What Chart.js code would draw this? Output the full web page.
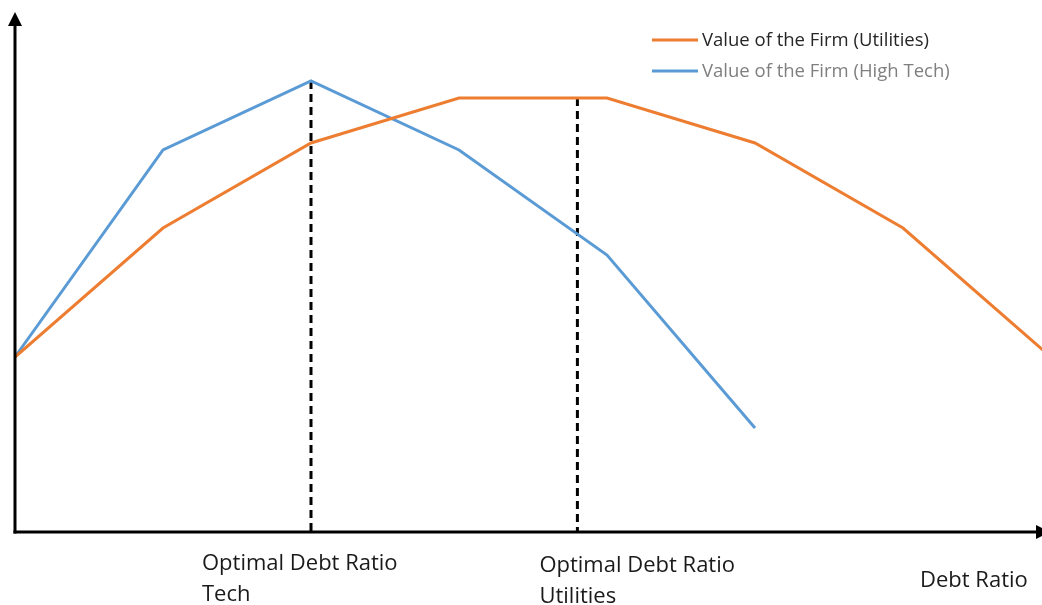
<!DOCTYPE html>
<html>
<head>
<meta charset="utf-8">
<script src="https://cdn.jsdelivr.net/npm/chart.js@4.4.1/dist/chart.umd.min.js"></script>
<style>
  html, body { margin: 0; padding: 0; background: #fff; }
  #wrap { width: 1042px; height: 605px; position: relative; }
</style>
</head>
<body>
<div id="wrap"><canvas id="c" width="1042" height="605"></canvas></div>
<script>
// Debt ratio steps along the horizontal axis
const debtSteps = [0, 1, 2, 3, 4, 5, 6, 7];
// Firm value curves (arbitrary units)
const utilitiesValue = [175, 304, 389, 434, 434, 389, 304, 175];
const highTechValue  = [175, 382, 451, 382, 277, 104];
// Optimal debt ratio markers
const optimalTech = 2;
const optimalUtilities = 3.8;
const seriesLabels = ['Value of the Firm (Utilities)', 'Value of the Firm (High Tech)'];
const axisLabel = 'Debt Ratio';

const ORANGE = '#ED7D31';
const BLUE = '#5B9BD5';
const FONT = '"Open Sans", Lato, sans-serif';

const pts = (xs, ys) => ys.map((v, i) => ({ x: xs[i], y: v }));
const utilAt = x => {
  const i = Math.floor(x), f = x - i;
  return utilitiesValue[i] + (i + 1 < utilitiesValue.length ? (utilitiesValue[i + 1] - utilitiesValue[i]) * f : 0);
};

const decor = {
  id: 'decor',
  afterDraw(chart) {
    const { ctx, scales: { x, y } } = chart;
    const x0 = x.getPixelForValue(0), y0 = y.getPixelForValue(0);
    ctx.save();
    ctx.strokeStyle = '#000';
    ctx.fillStyle = '#000';
    ctx.lineWidth = 3;
    // vertical axis with arrow
    ctx.beginPath();
    ctx.moveTo(x0, y0 + 1.5);
    ctx.lineTo(x0, 24);
    ctx.stroke();
    ctx.beginPath();
    ctx.moveTo(x0, 12);
    ctx.lineTo(x0 - 7, 26);
    ctx.lineTo(x0 + 7, 26);
    ctx.closePath();
    ctx.fill();
    // horizontal axis with arrow
    ctx.beginPath();
    ctx.moveTo(x0 - 1.5, y0);
    ctx.lineTo(1038, y0);
    ctx.stroke();
    ctx.beginPath();
    ctx.moveTo(1050, y0);
    ctx.lineTo(1036, y0 - 7);
    ctx.lineTo(1036, y0 + 7);
    ctx.closePath();
    ctx.fill();

    // legend
    ctx.lineWidth = 3;
    ctx.font = '18.5px ' + FONT;
    ctx.textBaseline = 'middle';
    const legend = [
      { label: seriesLabels[0], color: ORANGE, text: '#262626', yy: 40 },
      { label: seriesLabels[1], color: BLUE, text: '#7F7F7F', yy: 71 }
    ];
    legend.forEach(l => {
      ctx.strokeStyle = l.color;
      ctx.beginPath();
      ctx.moveTo(652, l.yy);
      ctx.lineTo(698, l.yy);
      ctx.stroke();
      ctx.fillStyle = l.text;
      ctx.fillText(l.label, 702, l.yy + 1);
    });

    // axis annotations
    ctx.fillStyle = '#1a1a1a';
    ctx.font = '22px ' + FONT;
    ctx.textBaseline = 'middle';
    const tx = x.getPixelForValue(optimalTech) - 109;
    ctx.fillText('Optimal Debt Ratio', tx, 564);
    ctx.fillText('Tech', tx, 595);
    const ux = x.getPixelForValue(optimalUtilities) - 38;
    ctx.fillText('Optimal Debt Ratio', ux, 566);
    ctx.fillText('Utilities', ux, 597);
    ctx.fillText(axisLabel, 920, 581);
    ctx.restore();
  }
};

new Chart(document.getElementById('c'), {
  type: 'line',
  data: {
    datasets: [
      {
        label: seriesLabels[0],
        data: pts(debtSteps, utilitiesValue),
        borderColor: ORANGE,
        borderWidth: 3,
        pointRadius: 0,
        tension: 0
      },
      {
        label: seriesLabels[1],
        data: pts(debtSteps, highTechValue),
        borderColor: BLUE,
        borderWidth: 3,
        pointRadius: 0,
        tension: 0
      },
      {
        label: 'optTech',
        data: [{ x: optimalTech, y: highTechValue[optimalTech] }, { x: optimalTech, y: 0 }],
        borderColor: '#000',
        borderWidth: 3,
        borderDash: [8, 5],
        pointRadius: 0
      },
      {
        label: 'optUtil',
        data: [{ x: optimalUtilities, y: utilAt(optimalUtilities) }, { x: optimalUtilities, y: 0 }],
        borderColor: '#000',
        borderWidth: 3,
        borderDash: [8, 5],
        pointRadius: 0
      }
    ]
  },
  options: {
    responsive: false,
    animation: false,
    layout: { padding: { left: 15, right: 0, top: 13, bottom: 73 } },
    scales: {
      x: { type: 'linear', min: 0, max: 1027 / 148, display: false },
      y: { min: 0, max: 519, display: false }
    },
    plugins: {
      legend: { display: false },
      tooltip: { enabled: false }
    }
  },
  plugins: [decor]
});
</script>
</body>
</html>
